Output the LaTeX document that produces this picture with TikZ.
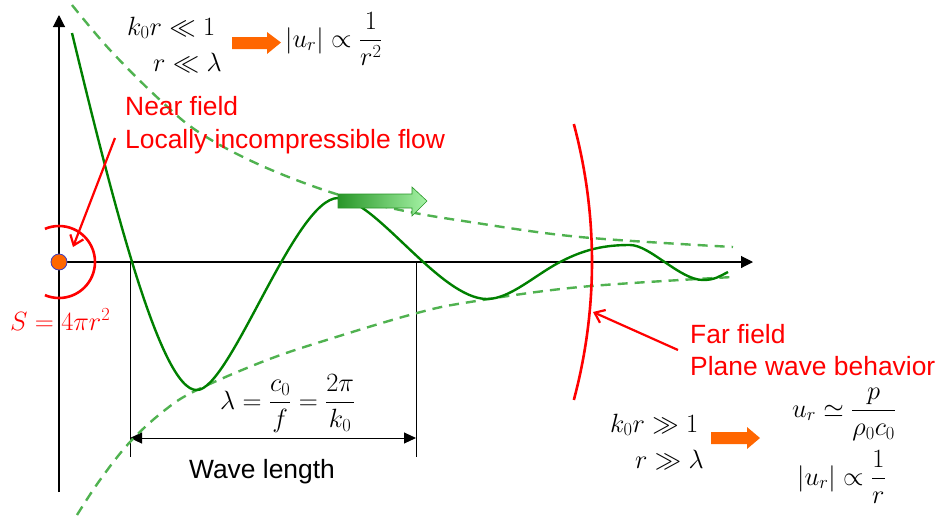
\RequirePackage{fix-cm}
\documentclass[tikz,border=0pt]{standalone}
\usepackage{amsmath}
\usepackage[no-math]{fontspec}
\newfontfamily\arialf{Liberation Sans}
\usetikzlibrary{arrows.meta}
\definecolor{cgreen}{RGB}{0,128,0}
\definecolor{dgreen}{RGB}{80,178,80}
\definecolor{corange}{RGB}{255,102,0}
\definecolor{cred}{RGB}{255,0,0}
\definecolor{lgreen}{RGB}{165,242,165}
\definecolor{mgreen}{RGB}{40,150,40}
\definecolor{dotblue}{RGB}{60,60,190}
\begin{document}
\begin{tikzpicture}[x=1pt,y=-1pt,
  mathtxt/.style={inner sep=0pt,font=\fontsize{26.4}{33}\selectfont},
  sanstxt/.style={inner sep=0pt,font=\arialf\fontsize{26.4}{33}\selectfont},
  axisline/.style={black,line width=1.1pt,-{Triangle[length=12pt,width=12pt]}},
  envelope/.style={dgreen,line width=2.4pt,dash pattern=on 10pt off 7pt},
  wave/.style={cgreen,line width=2.4pt},
  redline/.style={cred,line width=2.6pt},
  redarrow/.style={cred,line width=2.2pt,-{Straight Barb[length=9pt,width=14pt]}},
  orangearrow/.style={fill=corange,draw=none},
  dimline/.style={black,line width=1pt}]
\useasboundingbox (0,0) rectangle (943,515);

% axes
\coordinate (O) at (59,262);
\coordinate (ybot) at (59,492);
\coordinate (ytop) at (59,15);
\coordinate (xend) at (753,262);
\draw[axisline] (ybot) -- (ytop);
\draw[axisline] (O) -- (xend);

% wavelength dimension
\coordinate (w1a) at (130,262);
\coordinate (w1b) at (130,457);
\coordinate (w2a) at (416,262);
\coordinate (w2b) at (416,457);
\coordinate (d1) at (130,438);
\coordinate (d2) at (416,438);
\draw[dimline] (w1a) -- (w1b);
\draw[dimline] (w2a) -- (w2b);
\draw[dimline,{Triangle[length=12pt,width=11pt]}-{Triangle[length=12pt,width=11pt]}] (d1) -- (d2);

% envelopes
\draw[envelope] plot[smooth,tension=0.6] coordinates {(72,5) (110,50) (160,100) (200,133) (260,165) (333,193) (400,210) (470,222) (580,237) (733,247)};
\draw[envelope] plot[smooth,tension=0.6] coordinates {(77,515) (100,480) (130,442) (165,410) (197,390) (267,360) (333,338) (417,313) (470,302) (580,287) (733,277)};

% wave
\draw[wave] (72,33) .. controls (110,190) and (160,392) .. (197,390)
  .. controls (230,390) and (295,198) .. (338,198)
  .. controls (375,198) and (440,299) .. (487,299)
  .. controls (510,299) and (535,275) .. (560,262)
  .. controls (585,249) and (605,245) .. (630,245)
  .. controls (650,245) and (680,280) .. (703,280)
  .. controls (715,280) and (720,276) .. (728,272);

% green gradient arrow
\path[left color=mgreen,right color=lgreen,draw=mgreen,line width=0.6pt]
  (338,194) -- (412,194) -- (412,187) -- (427,201) -- (412,216) -- (412,208) -- (338,208) -- cycle;

% red near-field circle and far-field arc
\draw[redline] (O) ++(113:36) arc[start angle=113,end angle=-113,radius=36];
\draw[redline] (O) ++(-15:533) arc[start angle=-15,end angle=15,radius=533];

% source
\node[circle,fill=corange,draw=dotblue,line width=0.8pt,minimum size=16pt,inner sep=0pt] (src) at (O) {};

% orange arrows
\path[orangearrow] (232,37) -- (267,37) -- (267,32) -- (281,42.5) -- (267,54) -- (267,49) -- (232,49) -- cycle;
\path[orangearrow] (711,432) -- (747,432) -- (747,427) -- (760,438) -- (747,449) -- (747,444) -- (711,444) -- cycle;

% texts
\node[mathtxt,anchor=base west] (c1) at (127,35) {$k_0r\ll 1$};
\node[mathtxt,anchor=base west] (c2) at (153,71) {$r\ll \lambda$};
\node[mathtxt,anchor=base west] (near) at (285,47) {$|u_r|\propto \dfrac{1}{r^2}$};

\node[sanstxt,anchor=base west,text=cred] (nf1) at (125,115) {Near field};
\node[sanstxt,anchor=base west,text=cred] (nf2) at (125,148) {Locally incompressible flow};
\coordinate (nfStart) at (115,138);
\coordinate (nfTip) at (73,247);
\draw[redarrow] (nfStart) -- (nfTip);

\node[mathtxt,anchor=base west,text=cred] (area) at (10,330) {$S=4\pi r^2$};

\node[mathtxt,anchor=base west] (lam) at (220,409) {$\lambda=\dfrac{c_0}{f}=\dfrac{2\pi}{k_0}$};
\node[sanstxt,anchor=base] (wl) at (262,478) {Wave length};

\node[sanstxt,anchor=base west,text=cred] (ff1) at (690,343) {Far field};
\node[sanstxt,anchor=base west,text=cred] (ff2) at (690,375) {Plane wave behavior};
\coordinate (ffStart) at (678,350);
\coordinate (ffTip) at (593,312);
\draw[redarrow] (ffStart) -- (ffTip);

\node[mathtxt,anchor=base west] (c3) at (610,432) {$k_0r\gg 1$};
\node[mathtxt,anchor=base west] (c4) at (635,468) {$r\gg \lambda$};
\node[mathtxt,anchor=base west] (far1) at (792,417) {$u_r\simeq \dfrac{p}{\rho_0c_0}$};
\node[mathtxt,anchor=base west] (far2) at (797,485) {$|u_r|\propto \dfrac{1}{r}$};
\end{tikzpicture}
\end{document}
